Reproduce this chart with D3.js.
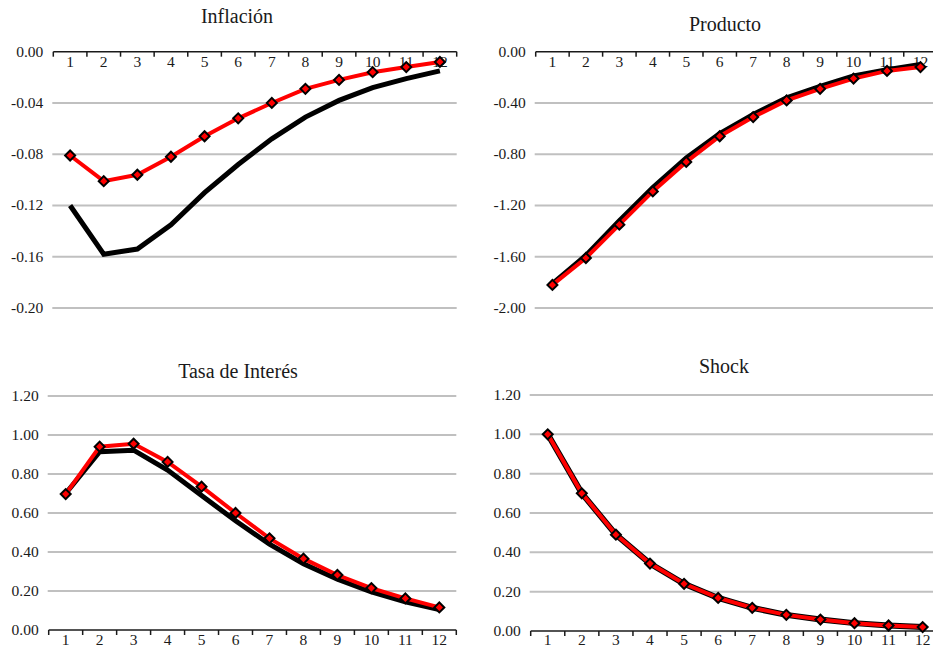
<!DOCTYPE html>
<html>
<head>
<meta charset="utf-8">
<script src="https://cdn.jsdelivr.net/npm/d3@7"></script>
<style>
  body { margin: 0; background: #fff; }
  svg { display: block; }
  text { font-family: 'Liberation Serif', 'DejaVu Serif', serif; fill: #1a1a1a; }
</style>
</head>
<body>
<div id="chart"></div>
<script>
const periodos = [1, 2, 3, 4, 5, 6, 7, 8, 9, 10, 11, 12];

// Inflación
const inflacionNegra = [-0.120, -0.158, -0.154, -0.135, -0.110, -0.088, -0.068, -0.051, -0.038, -0.028, -0.021, -0.015];
const inflacionRoja = [-0.081, -0.101, -0.096, -0.082, -0.066, -0.052, -0.040, -0.029, -0.022, -0.016, -0.012, -0.008];
const inflacionTicks = [0, -0.04, -0.08, -0.12, -0.16, -0.20];

// Producto
const productoNegra = [-1.81, -1.59, -1.32, -1.06, -0.83, -0.64, -0.49, -0.36, -0.27, -0.19, -0.14, -0.10];
const productoRoja = [-1.82, -1.61, -1.35, -1.09, -0.86, -0.66, -0.51, -0.38, -0.29, -0.21, -0.15, -0.12];
const productoTicks = [0, -0.40, -0.80, -1.20, -1.60, -2.00];

// Tasa de Interés
const tasaNegra = [0.70, 0.914, 0.922, 0.82, 0.69, 0.56, 0.44, 0.34, 0.26, 0.195, 0.145, 0.105];
const tasaRoja = [0.697, 0.940, 0.955, 0.862, 0.735, 0.600, 0.470, 0.366, 0.282, 0.215, 0.162, 0.116];
const tasaTicks = [0, 0.20, 0.40, 0.60, 0.80, 1.00, 1.20];

// Shock
const shockNegra = [1.00, 0.70, 0.49, 0.343, 0.24, 0.168, 0.118, 0.082, 0.058, 0.040, 0.028, 0.020];
const shockRoja = [1.00, 0.70, 0.49, 0.343, 0.24, 0.168, 0.118, 0.082, 0.058, 0.040, 0.028, 0.020];
const shockTicks = [0, 0.20, 0.40, 0.60, 0.80, 1.00, 1.20];

const svg = d3.select('#chart')
  .append('svg')
  .attr('width', 933)
  .attr('height', 649);

// plain hyphen for negatives, like the original
const fmt = d3.formatLocale({ decimal: '.', thousands: ',', grouping: [3], currency: ['', ''], minus: '-' }).format('.2f');

function drawPanel(p) {
  const g = svg.append('g');

  const x = d3.scaleBand()
    .domain(periodos)
    .range([p.left, p.right]);

  const y = d3.scaleLinear()
    .domain(d3.extent(p.ticks))
    .range([p.bottom, p.top]);

  const cx = d => x(d) + x.bandwidth() / 2;
  const axisY = y(0);

  // gridlines (except zero, the axis goes there)
  g.append('g')
    .selectAll('line')
    .data(p.ticks.filter(t => t !== 0))
    .enter()
    .append('line')
    .attr('x1', p.left - 1)
    .attr('x2', p.right)
    .attr('y1', d => y(d))
    .attr('y2', d => y(d))
    .attr('stroke', '#c0c0c0')
    .attr('stroke-width', 2);

  // y labels
  g.append('g')
    .selectAll('text')
    .data(p.ticks)
    .enter()
    .append('text')
    .attr('x', p.left - 10)
    .attr('y', d => y(d) + 5)
    .attr('text-anchor', 'end')
    .attr('font-size', 15.5)
    .text(d => fmt(d));

  // category axis
  g.append('line')
    .attr('x1', p.left)
    .attr('x2', p.right)
    .attr('y1', axisY)
    .attr('y2', axisY)
    .attr('stroke', '#1a1a1a')
    .attr('stroke-width', 1.5);

  const bounds = periodos.map(d => x(d)).concat([p.right]);
  g.append('g')
    .selectAll('line')
    .data(bounds)
    .enter()
    .append('line')
    .attr('x1', d => d)
    .attr('x2', d => d)
    .attr('y1', axisY)
    .attr('y2', axisY + 5)
    .attr('stroke', '#1a1a1a')
    .attr('stroke-width', 1.5);

  g.append('g')
    .selectAll('text')
    .data(periodos)
    .enter()
    .append('text')
    .attr('x', cx)
    .attr('y', p.labelY)
    .attr('text-anchor', 'middle')
    .attr('font-size', 15.5)
    .text(d => d);

  // title
  g.append('text')
    .attr('x', p.titleX)
    .attr('y', p.titleY)
    .attr('text-anchor', 'middle')
    .attr('font-size', 20)
    .text(p.title);

  const line = d3.line()
    .x((d, i) => cx(periodos[i]))
    .y(d => y(d));

  g.append('path')
    .datum(p.negra)
    .attr('d', line)
    .attr('fill', 'none')
    .attr('stroke', '#000')
    .attr('stroke-width', p.negraWidth)
    .attr('stroke-linejoin', 'miter');

  g.append('path')
    .datum(p.roja)
    .attr('d', line)
    .attr('fill', 'none')
    .attr('stroke', '#ff0000')
    .attr('stroke-width', 4);

  const diamond = d3.symbol().type(d3.symbolSquare).size(50);
  g.append('g')
    .selectAll('path')
    .data(p.roja)
    .enter()
    .append('path')
    .attr('d', diamond)
    .attr('transform', (d, i) => `translate(${cx(periodos[i])},${y(d)}) rotate(45)`)
    .attr('fill', '#ff0000')
    .attr('stroke', '#000')
    .attr('stroke-width', 2);
}

drawPanel({
  title: 'Inflación', titleX: 237, titleY: 23,
  left: 53.3, right: 456.7, top: 51.7, bottom: 308, labelY: 67,
  ticks: inflacionTicks, negra: inflacionNegra, roja: inflacionRoja,
  negraWidth: 5
});

drawPanel({
  title: 'Producto', titleX: 725, titleY: 31,
  left: 535.7, right: 937.2, top: 51.7, bottom: 308, labelY: 67,
  ticks: productoTicks, negra: productoNegra, roja: productoRoja,
  negraWidth: 5
});

drawPanel({
  title: 'Tasa de Interés', titleX: 238, titleY: 378,
  left: 48.7, right: 456.3, top: 396, bottom: 630, labelY: 644.5,
  ticks: tasaTicks, negra: tasaNegra, roja: tasaRoja,
  negraWidth: 5
});

drawPanel({
  title: 'Shock', titleX: 724, titleY: 373,
  left: 530.7, right: 939.7, top: 395, bottom: 631, labelY: 644.5,
  ticks: shockTicks, negra: shockNegra, roja: shockRoja,
  negraWidth: 6
});
</script>
</body>
</html>
